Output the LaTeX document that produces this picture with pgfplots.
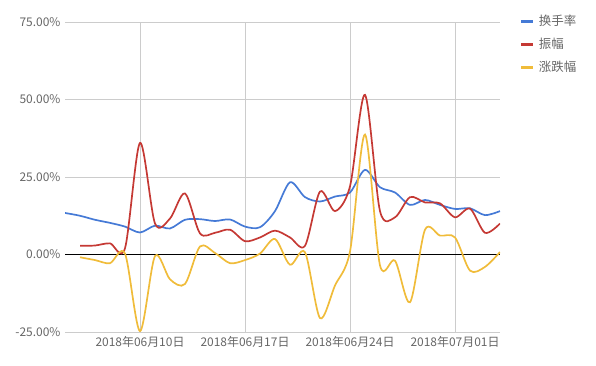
\documentclass[border=0pt]{standalone}
\usepackage{pgfplots}
\pgfplotsset{compat=1.18}
\usepackage{fontspec}
\setmainfont{Noto Sans CJK SC}
\definecolor{cblue}{RGB}{69,122,214}
\definecolor{cred}{RGB}{197,57,52}
\definecolor{cyellow}{RGB}{240,188,58}
\definecolor{labelgray}{RGB}{102,102,102}
\definecolor{gridgray}{RGB}{204,204,204}
\begin{document}
\begin{tikzpicture}
\useasboundingbox (0,0) rectangle (596bp,366bp);
\begin{axis}[
  at={(65bp,34bp)}, anchor=south west,
  scale only axis, width=435bp, height=310bp,
  xmin=-5, xmax=24, ymin=-25, ymax=75,
  xtick={0,7,14,21},
  xticklabels={2018年06月10日,2018年06月17日,2018年06月24日,2018年07月01日},
  ytick={-25,0,25,50,75},
  yticklabels={-25.00\%,0.00\%,25.00\%,50.00\%,75.00\%},
  extra y ticks={0}, extra y tick labels={},
  extra y tick style={grid style={black, line width=0.8pt}},
  grid=major, grid style={color=gridgray, line width=0.7pt},
  axis line style={draw=none}, major tick length=0,
  tick label style={font=\fontsize{12}{14}\selectfont, text=labelgray},
  xticklabel style={yshift=-1bp},
  yticklabel style={xshift=-1bp},
  legend style={at={(1.038,1.035)}, anchor=north west, draw=none, fill=none,
    font=\fontsize{12.5}{14}\selectfont, text=labelgray, row sep=7bp,
    nodes={inner xsep=4bp}},
  legend cell align=left,
  legend image code/.code={\draw[line width=3.2pt, #1] (0bp,0bp) -- (12bp,0bp);},
  every axis plot/.append style={smooth, tension=0.5, line width=1.7pt, no markers},
]
\addplot[cblue] coordinates {
(-5,13.4) (-4,12.5) (-3,11.2) (-2,10.2) (-1,9.0) (0,7.1) (1,9.3) (2,8.4) (3,11.2)
(4,11.4) (5,10.8) (6,11.3) (7,9.0) (8,8.8) (9,14.0) (10,23.3) (11,18.5) (12,17.1)
(13,18.7) (14,20.0) (15,27.3) (16,21.7) (17,20.0) (18,16.0) (19,17.6) (20,16.0)
(21,14.7) (22,14.9) (23,12.7) (24,14.0)};
\addlegendentry{换手率}
\addplot[cred] coordinates {
(-4,2.8) (-3,2.9) (-2,3.6) (-1,2.0) (0,36.0) (1,10.0) (2,11.6) (3,19.7) (4,6.8)
(5,7.0) (6,8.0) (7,4.3) (8,5.5) (9,7.7) (10,5.5) (11,2.8) (12,20.3) (13,14.0)
(14,22.0) (15,51.5) (16,14.0) (17,12.0) (18,18.5) (19,16.8) (20,16.5) (21,12.0)
(22,14.8) (23,7.0) (24,10.0)};
\addlegendentry{振幅}
\addplot[cyellow] coordinates {
(-4,-0.9) (-3,-1.8) (-2,-2.8) (-1,0.3) (0,-24.7) (1,-0.5) (2,-8.0) (3,-9.5) (4,2.6)
(5,0.5) (6,-2.8) (7,-1.8) (8,0.3) (9,5.0) (10,-3.3) (11,0.7) (12,-20.5) (13,-10.0)
(14,1.0) (15,38.7) (16,-3.5) (17,-2.0) (18,-15.4) (19,8.0) (20,6.1) (21,5.5)
(22,-5.2) (23,-4.0) (24,0.8)};
\addlegendentry{涨跌幅}
\end{axis}
\end{tikzpicture}
\end{document}
